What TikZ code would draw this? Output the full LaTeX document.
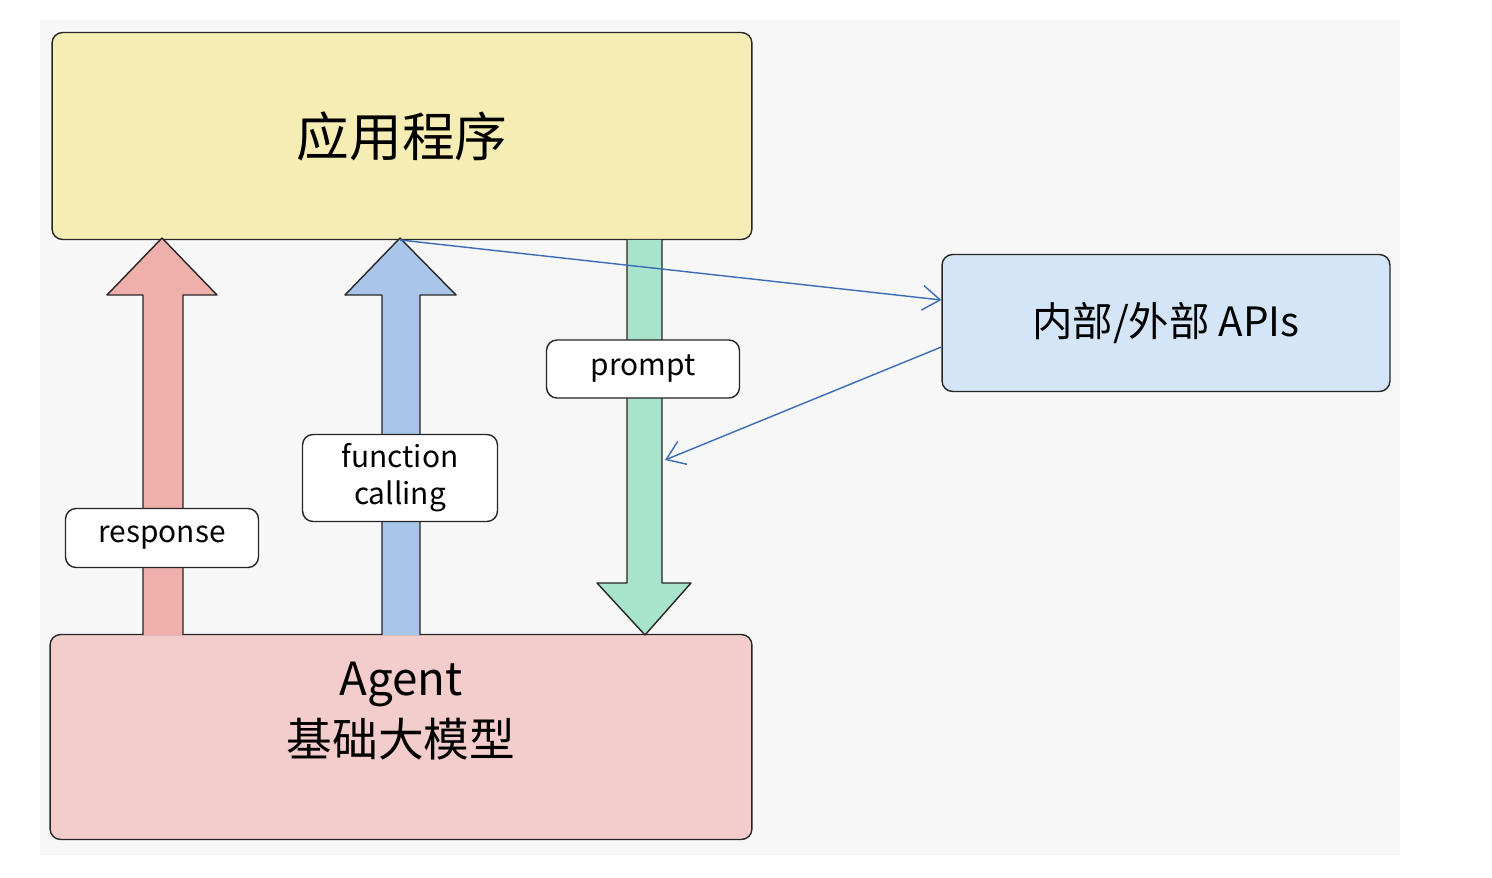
\documentclass[tikz,border=0pt]{standalone}
\usepackage{fontspec}
\setmainfont{Noto Sans CJK SC}
\usetikzlibrary{arrows.meta}
\definecolor{appyellow}{HTML}{F6EDB4}
\definecolor{agentred}{HTML}{F3CDCB}
\definecolor{apiblue}{HTML}{D3E5F6}
\definecolor{respred}{HTML}{EFAFAA}
\definecolor{fcblue}{HTML}{A9C6EA}
\definecolor{promptgreen}{HTML}{A8E3CC}
\definecolor{linkblue}{HTML}{3A6DB5}
\tikzset{
  box/.style={draw=black!85, thick, rounded corners=6pt, inner sep=0pt},
  tag/.style={draw=black!85, thick, rounded corners=6pt, fill=white, align=center, font=\fontsize{17}{21}\selectfont},
  blockarrow/.style={draw=black!85, thick, line join=round},
  link/.style={draw=linkblue, thick, -{Straight Barb[length=10pt,width=14pt]}}
}
\begin{document}
\begin{tikzpicture}[x=0.02cm,y=-0.02cm]
\useasboundingbox (0,0) rectangle (1492,878);
\fill[black!3] (40,20) rectangle (1400,855);
%BOXES
\node[box, fill=appyellow, minimum width=14cm, minimum height=4.14cm, font=\fontsize{30}{34}\selectfont] (app) at (402,136) {应用程序};
\node[box, fill=agentred, minimum width=14.04cm, minimum height=4.1cm] (agent) at (401,737) {};
\node[align=center, font=\fontsize{26}{35}\selectfont] (agenttext) at (401,711) {Agent\\基础大模型};
\node[box, fill=apiblue, minimum width=8.96cm, minimum height=2.74cm, font=\fontsize{23}{26}\selectfont] (apis) at (1166,323) {内部/外部 APIs};
%ARROWS
\draw[blockarrow, fill=respred] (143,635)--(143,295)--(107,295)--(162,238)--(217,295)--(183,295)--(183,635);
\draw[blockarrow, fill=fcblue] (382,635)--(382,295)--(345,295)--(400,238)--(456,295)--(420,295)--(420,635);
\draw[blockarrow, fill=promptgreen] (627,240)--(627,583)--(597,583)--(645,635)--(691,583)--(662,583)--(662,240);
%TAGS
\node[tag, minimum width=3.86cm, minimum height=1.18cm] (response) at (162,538) {response};
\node[tag, minimum width=3.9cm, minimum height=1.74cm] (fcall) at (400,478) {function\\calling};
\node[tag, minimum width=3.86cm, minimum height=1.16cm] (prompt) at (643,369) {prompt};
%LINKS
\coordinate (call) at (400,240);
\coordinate (back) at (665,460);
\draw[link] (call) -- (apis.west |- 0,300);
\draw[link] (apis.west |- 0,347) -- (back);
\end{tikzpicture}
\end{document}
